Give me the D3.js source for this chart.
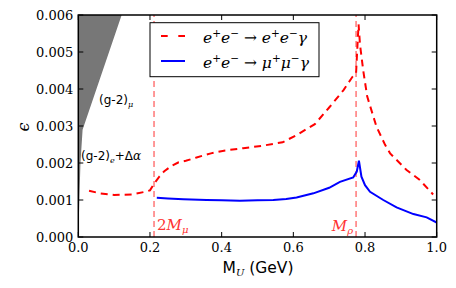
<!doctype html>
<html lang="en">

<head>
  <title>Dark photon epsilon limits</title>
  <meta charset="utf-8" />
  <script src="https://d3js.org/d3.v7.min.js"></script>
  <style>
    body { margin: 0; background: #fff; }
    svg { display: block; }
    .tick-label { font-family: "DejaVu Serif", serif; font-size: 13px; fill: #000; }
    .math { font-family: "DejaVu Serif", serif; font-style: italic; }
    .sans { font-family: "DejaVu Sans", sans-serif; }
  </style>
</head>

<body>
  <figure id="chart" style="margin:0"></figure>

  <script>
    // mass in GeV, epsilon in units of 1e-3
    const eeMass = [0.03, 0.06, 0.10, 0.15, 0.185, 0.20, 0.212, 0.225, 0.24, 0.26, 0.28, 0.30, 0.33, 0.37, 0.41, 0.46, 0.51, 0.57, 0.61, 0.66, 0.70, 0.74, 0.765, 0.775, 0.778, 0.782, 0.786, 0.795, 0.806, 0.832, 0.856, 0.87, 0.916, 0.953, 0.99];
    const eeEps = [1.25, 1.18, 1.135, 1.15, 1.22, 1.26, 1.45, 1.62, 1.78, 1.92, 2.02, 2.06, 2.15, 2.26, 2.34, 2.40, 2.46, 2.56, 2.76, 3.05, 3.50, 3.97, 4.33, 4.42, 5.0, 5.75, 5.2, 4.5, 3.8, 2.98, 2.49, 2.26, 1.81, 1.54, 1.15];

    const mumuMass = [0.219, 0.25, 0.293, 0.358, 0.40, 0.451, 0.50, 0.544, 0.58, 0.609, 0.656, 0.70, 0.73, 0.767, 0.777, 0.783, 0.79, 0.80, 0.814, 0.851, 0.888, 0.935, 0.972, 1.0];
    const mumuEps = [1.06, 1.04, 1.02, 1.0, 0.99, 0.98, 0.99, 1.0, 1.03, 1.07, 1.18, 1.33, 1.49, 1.61, 1.77, 2.06, 1.63, 1.40, 1.22, 1.0, 0.80, 0.62, 0.53, 0.39];

    // (g-2)_mu favoured band
    const bandMass = [0, 0.121, 0.012, 0.006, 0.003, 0];
    const bandEps = [6.0, 6.0, 2.9, 2.0, 1.0, 0];

    const xTicks = [0.0, 0.2, 0.4, 0.6, 0.8, 1.0];
    const xTickLabels = ["0.0", "0.2", "0.4", "0.6", "0.8", "1.0"];
    const yTicks = [0, 1, 2, 3, 4, 5, 6];
    const yTickLabels = ["0.000", "0.001", "0.002", "0.003", "0.004", "0.005", "0.006"];

    const massTwoMu = 0.2113;
    const massRho = 0.775;

    const W = 456, H = 288;
    const margin = { left: 78.3, right: 19.3, top: 15, bottom: 51 };

    const svg = d3.select("#chart").append("svg")
      .attr("width", W)
      .attr("height", H);

    const x = d3.scaleLinear().domain([0, 1]).range([margin.left, W - margin.right]);
    const y = d3.scaleLinear().domain([0, 6]).range([H - margin.bottom, margin.top]);

    const zip = (xs, ys) => xs.map((v, i) => [v, ys[i]]);
    const line = d3.line().x(d => x(d[0])).y(d => y(d[1]));

    svg.append("defs").append("clipPath").attr("id", "plot")
      .append("rect")
      .attr("x", x(0)).attr("y", y(6))
      .attr("width", x(1) - x(0)).attr("height", y(0) - y(6));

    const plot = svg.append("g").attr("clip-path", "url(#plot)");

    plot.append("path")
      .attr("d", line(zip(bandMass, bandEps)) + "Z")
      .attr("fill", "#777")
      .attr("stroke", "none");

    // threshold lines
    [massTwoMu, massRho].forEach(m => {
      plot.append("line")
        .attr("x1", x(m)).attr("x2", x(m))
        .attr("y1", y(0)).attr("y2", y(6))
        .attr("stroke", "#f33")
        .attr("stroke-width", 1)
        .attr("stroke-dasharray", "6,4");
    });

    plot.append("path")
      .attr("d", line(zip(eeMass, eeEps)))
      .attr("fill", "none")
      .attr("stroke", "#ff0000")
      .attr("stroke-width", 2)
      .attr("stroke-dasharray", "7,5");

    plot.append("path")
      .attr("d", line(zip(mumuMass, mumuEps)))
      .attr("fill", "none")
      .attr("stroke", "#0000ff")
      .attr("stroke-width", 2);

    // axes with inward ticks on all four sides
    const tickLen = 5;
    const axes = svg.append("g").attr("stroke", "#000").attr("stroke-width", 1);
    xTicks.forEach(t => {
      axes.append("line").attr("x1", x(t)).attr("x2", x(t)).attr("y1", y(0)).attr("y2", y(0) - tickLen);
      axes.append("line").attr("x1", x(t)).attr("x2", x(t)).attr("y1", y(6)).attr("y2", y(6) + tickLen);
    });
    yTicks.forEach(t => {
      axes.append("line").attr("x1", x(0)).attr("x2", x(0) + tickLen).attr("y1", y(t)).attr("y2", y(t));
      axes.append("line").attr("x1", x(1)).attr("x2", x(1) - tickLen).attr("y1", y(t)).attr("y2", y(t));
    });

    svg.append("rect")
      .attr("x", x(0)).attr("y", y(6))
      .attr("width", x(1) - x(0)).attr("height", y(0) - y(6))
      .attr("fill", "none")
      .attr("stroke", "#000")
      .attr("stroke-width", 1.5);

    svg.selectAll("text.xt")
      .data(xTicks)
      .enter().append("text")
      .attr("class", "xt tick-label")
      .attr("x", d => x(d))
      .attr("y", y(0) + 15)
      .attr("text-anchor", "middle")
      .text((d, i) => xTickLabels[i]);

    svg.selectAll("text.yt")
      .data(yTicks)
      .enter().append("text")
      .attr("class", "yt tick-label")
      .attr("x", x(0) - 5)
      .attr("y", d => y(d) + 4.5)
      .attr("text-anchor", "end")
      .text((d, i) => yTickLabels[i]);

    // axis titles
    const xTitle = svg.append("text")
      .attr("class", "sans")
      .attr("x", 258).attr("y", 273)
      .attr("text-anchor", "middle")
      .attr("font-size", 15.5);
    xTitle.append("tspan").text("M");
    xTitle.append("tspan").attr("class", "math").attr("font-size", 10).attr("dy", 3).text("U");
    xTitle.append("tspan").attr("dy", -3).text(" (GeV)");

    svg.append("text")
      .attr("class", "math")
      .attr("font-size", 16)
      .attr("text-anchor", "middle")
      .attr("transform", "translate(29,127) rotate(-90)")
      .text("\u03f5");

    // annotations
    const gmu = svg.append("text").attr("class", "sans").attr("font-size", 12)
      .attr("x", 99).attr("y", 104);
    gmu.append("tspan").text("(g-2)");
    gmu.append("tspan").attr("class", "math").attr("font-size", 8).attr("dy", 3).text("\u03bc");

    const ge = svg.append("text").attr("class", "sans").attr("font-size", 12)
      .attr("x", 81).attr("y", 160);
    ge.append("tspan").text("(g-2)");
    ge.append("tspan").attr("class", "math").attr("font-size", 8).attr("dy", 3).text("e");
    ge.append("tspan").attr("dy", -3).text("+\u0394");
    ge.append("tspan").attr("class", "math").text("\u03b1");

    const twoMu = svg.append("text").attr("fill", "#f33").attr("font-size", 15)
      .attr("class", "math").attr("x", x(massTwoMu) + 3).attr("y", 230);
    twoMu.append("tspan").attr("font-style", "normal").text("2");
    twoMu.append("tspan").text("M");
    twoMu.append("tspan").attr("font-size", 10).attr("dy", 3).text("\u03bc");

    const rho = svg.append("text").attr("fill", "#f33").attr("font-size", 15)
      .attr("class", "math").attr("x", x(massRho) - 3).attr("y", 231)
      .attr("text-anchor", "end");
    rho.append("tspan").text("M");
    rho.append("tspan").attr("font-size", 10).attr("dy", 3).text("\u03c1");

    // legend
    const legend = svg.append("g");
    legend.append("rect")
      .attr("x", 150).attr("y", 22.7)
      .attr("width", 169).attr("height", 54)
      .attr("fill", "#fff").attr("stroke", "#000").attr("stroke-width", 1);

    const legendItems = [
      { color: "#ff0000", dash: "6.7,10.6", ly: 36, parts: ["e", "+", "e", "\u2212", " \u2192 ", "e", "+", "e", "\u2212", "\u03b3"] },
      { color: "#0000ff", dash: null, ly: 61, parts: ["e", "+", "e", "\u2212", " \u2192 ", "\u03bc", "+", "\u03bc", "\u2212", "\u03b3"] }
    ];
    legendItems.forEach(item => {
      legend.append("line")
        .attr("x1", 161).attr("x2", 185)
        .attr("y1", item.ly).attr("y2", item.ly)
        .attr("stroke", item.color).attr("stroke-width", 2)
        .attr("stroke-dasharray", item.dash);
      const t = legend.append("text").attr("class", "math").attr("font-size", 15.5)
        .attr("x", 203).attr("y", item.ly + 7);
      let raised = false;
      item.parts.forEach(p => {
        const isSup = p === "+" || p === "\u2212";
        const ts = t.append("tspan").text(p);
        if (isSup && !raised) { ts.attr("dy", -6).attr("font-size", 10.5); raised = true; }
        else if (isSup) { ts.attr("font-size", 10.5); }
        else if (raised) { ts.attr("dy", 6); raised = false; }
        if (p === " \u2192 ") ts.attr("font-style", "normal");
      });
    });
  </script>

</body></html>
